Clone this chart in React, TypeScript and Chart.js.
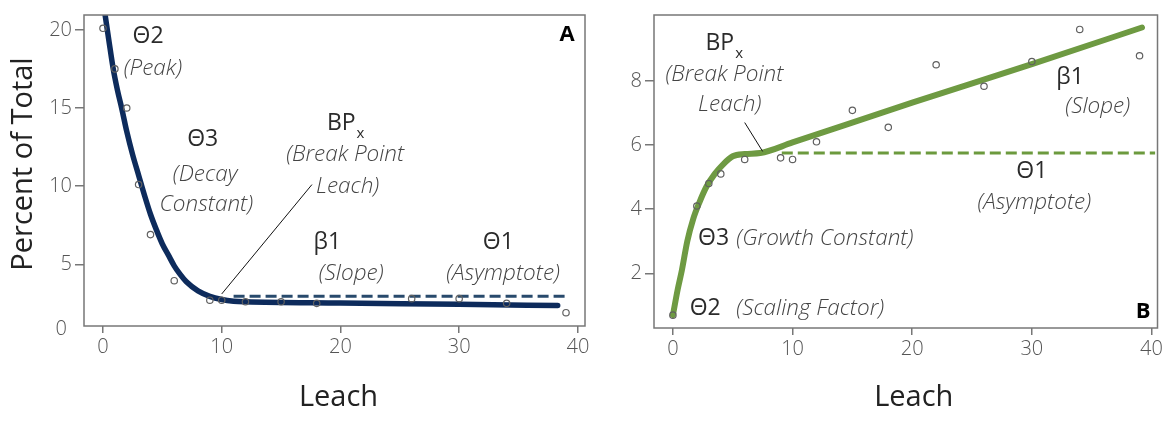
import { useEffect, useRef } from "react";
import { Chart, registerables } from "chart.js";

Chart.register(...registerables);

// ---- shared axis ticks ----
const LEACH_TICKS = [0, 10, 20, 30, 40];
const A_Y_TICKS = [5, 10, 15, 20];
const B_Y_TICKS = [2, 4, 6, 8];

// ---- Panel A: percent of total, decay model ----
const A_OBS_X = [0, 1, 2, 3, 4, 6, 9, 10, 12, 15, 18, 26, 30, 34, 39];
const A_OBS_Y = [20.1, 17.5, 15.0, 10.1, 6.9, 3.95, 2.7, 2.7, 2.6, 2.6, 2.5, 2.8, 2.8, 2.5, 1.9];

const A_FIT_X = [0.17, 0.5, 0.84, 1.2, 1.6, 2, 2.5, 3, 3.5, 4, 4.5, 5, 5.5, 6, 6.5, 7, 8, 9, 10, 11, 12, 20, 30, 38.3];
const A_FIT_Y = [21, 19.3, 17.6, 16.2, 14.9, 13.5, 12.0, 10.7, 9.4, 8.2, 7.2, 6.3, 5.6, 4.9, 4.35, 3.9, 3.3, 2.95, 2.75, 2.64, 2.6, 2.52, 2.44, 2.36];

const A_ASYM_X = [11, 39];
const A_ASYM_Y = [2.95, 2.95];

// ---- Panel B: growth model ----
const B_OBS_X = [0, 2, 3, 4, 6, 9, 10, 12, 15, 18, 22, 26, 30, 34, 39];
const B_OBS_Y = [0.7, 4.1, 4.8, 5.1, 5.55, 5.6, 5.55, 6.1, 7.08, 6.55, 8.5, 7.83, 8.6, 9.6, 8.78];

const B_FIT_X = [0, 0.4, 0.75, 1.2, 1.7, 2.2, 2.8, 3.5, 4.2, 5, 6, 7.3, 10, 20, 30, 39.2];
const B_FIT_Y = [0.7, 1.5, 2.1, 3.0, 3.7, 4.2, 4.7, 5.1, 5.4, 5.65, 5.72, 5.75, 6.08, 7.32, 8.52, 9.66];

const B_ASYM_X = [9.1, 40.3];
const B_ASYM_Y = [5.75, 5.75];

const FONT = '"Open Sans", "Noto Sans", "DejaVu Sans", sans-serif';

type Label = {
  text: string;
  x: number;
  y: number;
  kind: "sym" | "note" | "panel" | "bp";
  align?: CanvasTextAlign;
};

const A_LABELS: Label[] = [
  { text: "Θ2", x: 3.8, y: 19.6, kind: "sym" },
  { text: "(Peak)", x: 4.2, y: 17.5, kind: "note" },
  { text: "Θ3", x: 8.4, y: 13.0, kind: "sym" },
  { text: "(Decay", x: 8.6, y: 10.75, kind: "note" },
  { text: "Constant)", x: 8.7, y: 8.8, kind: "note" },
  { text: "BP", x: 20.4, y: 14.0, kind: "bp" },
  { text: "(Break Point", x: 20.4, y: 12.0, kind: "note" },
  { text: "Leach)", x: 20.6, y: 10.0, kind: "note" },
  { text: "β1", x: 18.9, y: 6.4, kind: "sym" },
  { text: "(Slope)", x: 20.9, y: 4.4, kind: "note" },
  { text: "Θ1", x: 33.3, y: 6.4, kind: "sym" },
  { text: "(Asymptote)", x: 33.7, y: 4.4, kind: "note" },
  { text: "A", x: 39.1, y: 19.7, kind: "panel" },
];

const B_LABELS: Label[] = [
  { text: "BP", x: 4.25, y: 9.16, kind: "bp" },
  { text: "(Break Point", x: 4.3, y: 8.2, kind: "note" },
  { text: "Leach)", x: 4.75, y: 7.26, kind: "note" },
  { text: "Θ3", x: 2.1, y: 3.1, kind: "sym", align: "left" },
  { text: "(Growth Constant)", x: 5.3, y: 3.1, kind: "note", align: "left" },
  { text: "Θ2", x: 1.4, y: 0.9, kind: "sym", align: "left" },
  { text: "(Scaling Factor)", x: 5.3, y: 0.9, kind: "note", align: "left" },
  { text: "β1", x: 33.2, y: 8.1, kind: "sym" },
  { text: "(Slope)", x: 35.5, y: 7.2, kind: "note" },
  { text: "Θ1", x: 30.0, y: 5.18, kind: "sym" },
  { text: "(Asymptote)", x: 30.2, y: 4.2, kind: "note" },
  { text: "B", x: 39.3, y: 0.8, kind: "panel" },
];

// pointer from the break-point note to the curve
const A_POINTER = { x1: 10.0, y1: 3.1, x2: 17.6, y2: 10.1 };
const B_POINTER = { x1: 6.0, y1: 6.7, x2: 7.5, y2: 5.8 };

const zip = (xs: number[], ys: number[]) => xs.map((x, i) => ({ x, y: ys[i] }));

type PanelSpec = {
  width: number;
  yAxisWidth: number;
  xAxisHeight: number;
  padTop: number;
  padRight: number;
  xMin: number;
  xMax: number;
  yMin: number;
  yMax: number;
  yTicks: number[];
  obs: { x: number; y: number }[];
  fit: { x: number; y: number }[];
  asym: { x: number; y: number }[];
  lineColor: string;
  dashColor: string;
  lineWidth: number;
  labels: Label[];
  pointer: { x1: number; y1: number; x2: number; y2: number };
  yTitle?: string;
  zeroLabel?: boolean;
  xTitleOffset: number;
};

function fontFor(kind: Label["kind"]) {
  if (kind === "sym" || kind === "bp") return `400 23px ${FONT}`;
  if (kind === "panel") return `700 22px ${FONT}`;
  return `italic 300 22.5px ${FONT}`;
}

function colorFor(kind: Label["kind"]) {
  if (kind === "panel") return "#000";
  if (kind === "note") return "#444";
  return "#2b2b2b";
}

function makeChart(canvas: HTMLCanvasElement, p: PanelSpec) {
  const decor = {
    id: "decor",
    afterDatasetsDraw(chart: any) {
      const { ctx, chartArea: a, scales } = chart;
      const sx = scales.x;
      const sy = scales.y;
      ctx.save();
      // frame
      ctx.strokeStyle = "#777";
      ctx.lineWidth = 1.5;
      ctx.strokeRect(a.left, a.top, a.right - a.left, a.bottom - a.top);

      // pointer line
      ctx.strokeStyle = "#111";
      ctx.lineWidth = 1;
      ctx.beginPath();
      ctx.moveTo(sx.getPixelForValue(p.pointer.x1), sy.getPixelForValue(p.pointer.y1));
      ctx.lineTo(sx.getPixelForValue(p.pointer.x2), sy.getPixelForValue(p.pointer.y2));
      ctx.stroke();

      // annotations
      ctx.textBaseline = "middle";
      for (const l of p.labels) {
        const px = sx.getPixelForValue(l.x);
        const py = sy.getPixelForValue(l.y);
        ctx.font = fontFor(l.kind);
        ctx.fillStyle = colorFor(l.kind);
        if (l.kind === "bp") {
          const w1 = ctx.measureText(l.text).width;
          const subFont = `400 15px ${FONT}`;
          ctx.font = subFont;
          const w2 = ctx.measureText("x").width;
          const left = px - (w1 + w2) / 2;
          ctx.textAlign = "left";
          ctx.font = fontFor(l.kind);
          ctx.fillText(l.text, left, py);
          ctx.font = subFont;
          ctx.fillText("x", left + w1 + 1, py + 10);
        } else {
          ctx.textAlign = l.align ?? "center";
          ctx.fillText(l.text, px, py);
        }
      }

      // origin label on the y axis
      if (p.zeroLabel) {
        ctx.font = `300 20px ${FONT}`;
        ctx.fillStyle = "#555";
        ctx.textAlign = "right";
        ctx.fillText("0", a.left - 17, a.bottom + 3);
      }

      // axis titles
      ctx.fillStyle = "#222";
      ctx.font = `400 29px ${FONT}`;
      ctx.textAlign = "center";
      ctx.fillText("Leach", (a.left + a.right) / 2 + p.xTitleOffset, 398);
      if (p.yTitle) {
        ctx.save();
        ctx.translate(24, 164);
        ctx.rotate(-Math.PI / 2);
        ctx.font = `400 29px ${FONT}`;
        ctx.fillText(p.yTitle, 0, 0);
        ctx.restore();
      }
      ctx.restore();
    },
  };

  const tickFont = { family: FONT, size: 20, weight: 300 as const };

  return new Chart(canvas, {
    type: "scatter",
    data: {
      datasets: [
        {
          label: "observed",
          data: p.obs,
          pointRadius: 3.2,
          pointBorderWidth: 1.2,
          pointBorderColor: "#606060",
          pointBackgroundColor: "rgba(255,255,255,0)",
          showLine: false,
          order: 0,
        },
        {
          label: "fit",
          data: p.fit,
          showLine: true,
          borderColor: p.lineColor,
          borderWidth: p.lineWidth,
          pointRadius: 0,
          cubicInterpolationMode: "monotone",
          borderCapStyle: "round",
          order: 2,
        },
        {
          label: "asymptote",
          data: p.asym,
          showLine: true,
          borderColor: p.dashColor,
          borderWidth: 3,
          borderDash: [11, 5],
          pointRadius: 0,
          order: 1,
        },
      ],
    },
    options: {
      responsive: false,
      animation: false,
      layout: { padding: { top: p.padTop, right: p.padRight, left: 0, bottom: 0 } },
      plugins: { legend: { display: false }, tooltip: { enabled: false } },
      scales: {
        x: {
          type: "linear",
          min: p.xMin,
          max: p.xMax,
          afterBuildTicks: (s: any) => {
            s.ticks = LEACH_TICKS.map((v) => ({ value: v }));
          },
          afterFit: (s: any) => {
            s.height = p.xAxisHeight;
          },
          ticks: { font: tickFont, color: "#555", padding: 2, maxRotation: 0, autoSkip: false },
          grid: { drawOnChartArea: false, drawTicks: true, tickLength: 7, color: "#777", lineWidth: 1.5 },
          border: { display: false },
        },
        y: {
          type: "linear",
          min: p.yMin,
          max: p.yMax,
          afterBuildTicks: (s: any) => {
            s.ticks = p.yTicks.map((v) => ({ value: v }));
          },
          afterFit: (s: any) => {
            s.width = p.yAxisWidth;
          },
          ticks: { font: tickFont, color: "#555", padding: 3 },
          grid: { drawOnChartArea: false, drawTicks: true, tickLength: 9, color: "#777", lineWidth: 1.5 },
          border: { display: false },
        },
      },
    },
    plugins: [decor],
  });
}

const PANEL_A: PanelSpec = {
  width: 600,
  yAxisWidth: 84,
  xAxisHeight: 99,
  padTop: 4,
  padRight: 15,
  xMin: -1.6,
  xMax: 40.6,
  yMin: 1.05,
  yMax: 20.95,
  yTicks: A_Y_TICKS,
  obs: zip(A_OBS_X, A_OBS_Y),
  fit: zip(A_FIT_X, A_FIT_Y),
  asym: zip(A_ASYM_X, A_ASYM_Y),
  lineColor: "#0d2b5c",
  dashColor: "#284a6c",
  lineWidth: 5.5,
  labels: A_LABELS,
  pointer: A_POINTER,
  yTitle: "Percent of Total",
  zeroLabel: true,
  xTitleOffset: 4,
};

const PANEL_B: PanelSpec = {
  width: 565,
  yAxisWidth: 54,
  xAxisHeight: 97,
  padTop: 2,
  padRight: 5,
  xMin: -1.58,
  xMax: 40.5,
  yMin: 0.3,
  yMax: 10.05,
  yTicks: B_Y_TICKS,
  obs: zip(B_OBS_X, B_OBS_Y),
  fit: zip(B_FIT_X, B_FIT_Y),
  asym: zip(B_ASYM_X, B_ASYM_Y),
  lineColor: "#6e9a42",
  dashColor: "#6c9a3e",
  lineWidth: 6,
  labels: B_LABELS,
  pointer: B_POINTER,
  xTitleOffset: 8,
};

function Panel({ spec, left }: { spec: PanelSpec; left: number }) {
  const ref = useRef<HTMLCanvasElement>(null);
  useEffect(() => {
    if (!ref.current) return;
    const chart = makeChart(ref.current, spec);
    return () => chart.destroy();
  }, [spec]);
  return (
    <canvas
      ref={ref}
      width={spec.width}
      height={425}
      style={{ position: "absolute", left, top: 0, width: spec.width, height: 425 }}
    />
  );
}

export default function App() {
  return (
    <div
      style={{
        position: "absolute",
        left: 0,
        top: 0,
        width: 1165,
        height: 425,
        background: "#fff",
        overflow: "hidden",
      }}
    >
      <Panel spec={PANEL_A} left={0} />
      <Panel spec={PANEL_B} left={600} />
    </div>
  );
}
